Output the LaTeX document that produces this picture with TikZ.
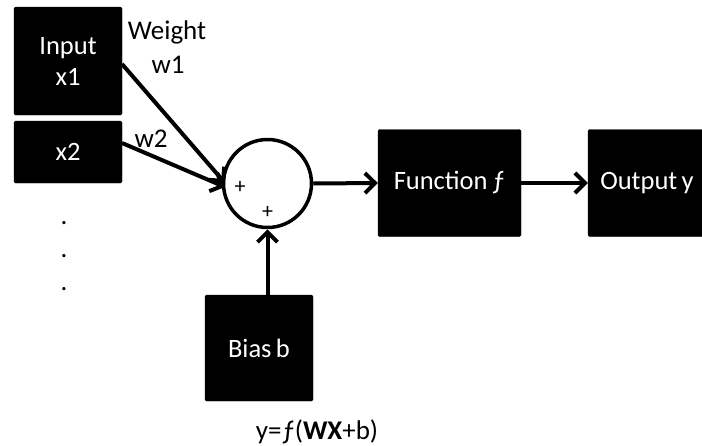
\documentclass[tikz,border=0pt]{standalone}
\usepackage{fontspec}
\setmainfont{Carlito}
\usetikzlibrary{arrows.meta}
\begin{document}
\begin{tikzpicture}[x=1pt,y=-1pt,
  blk/.style={fill=black,draw=black,rounded corners=1.5pt,text=white,
    font=\fontsize{26.5}{30}\selectfont,align=center,inner sep=0pt},
  conn/.style={line width=4pt,-{Straight Barb[length=10pt,width=20pt,line width=4pt]}},
  lbl/.style={font=\fontsize{27}{30}\selectfont,align=center,inner sep=0pt}]
\useasboundingbox (0,0) rectangle (702,445);
% input boxes
\node[blk,minimum width=108pt,minimum height=108pt] (in1) at (68,61) {Input\\[1pt]x1};
\node[blk,minimum width=108pt,minimum height=62pt] (in2) at (68,152) {x2};
% ellipsis dots
\node[lbl] (d1) at (64,223) {.};
\node[lbl] (d2) at (64,256) {.};
\node[lbl] (d3) at (64,289) {.};
% summing junction
\node[circle,draw=black,line width=3.5pt,minimum size=88pt,inner sep=0pt] (sum) at (267.5,183.5) {};
\node[font=\fontsize{22}{24}\selectfont,inner sep=0pt] (p1) at (240,187) {+};
\node[font=\fontsize{22}{24}\selectfont,inner sep=0pt] (p2) at (267.5,212) {+};
% function and output
\node[blk,minimum width=143pt,minimum height=107pt] (fun) at (449.5,183) {Function\,ƒ};
\node[blk,minimum width=118pt,minimum height=107pt] (out) at (647,183) {Output\,y};
% bias
\node[blk,minimum width=108pt,minimum height=106pt] (bias) at (259,348) {Bias\,b};
% labels
\node[lbl] (wt) at (167,32) {Weight};
\node[lbl] (w1) at (168,65) {w1};
\node[lbl] (w2) at (151,139) {w2};
\node[lbl] (eq) at (317,432) {y=ƒ(\textbf{WX}+b)};
% connectors
\coordinate (a1) at (122,64);
\coordinate (a2) at (122,143);
\coordinate (s1) at (225,183);
\coordinate (s2) at (225,187);
\draw[conn] (a1) -- (s1);
\draw[conn] (a2) -- (s2);
\draw[conn] (sum.east) -- (fun.west);
\draw[conn] (fun.east) -- (out.west);
\draw[conn] (bias.north -| sum.south) -- (sum.south);
\end{tikzpicture}
\end{document}
